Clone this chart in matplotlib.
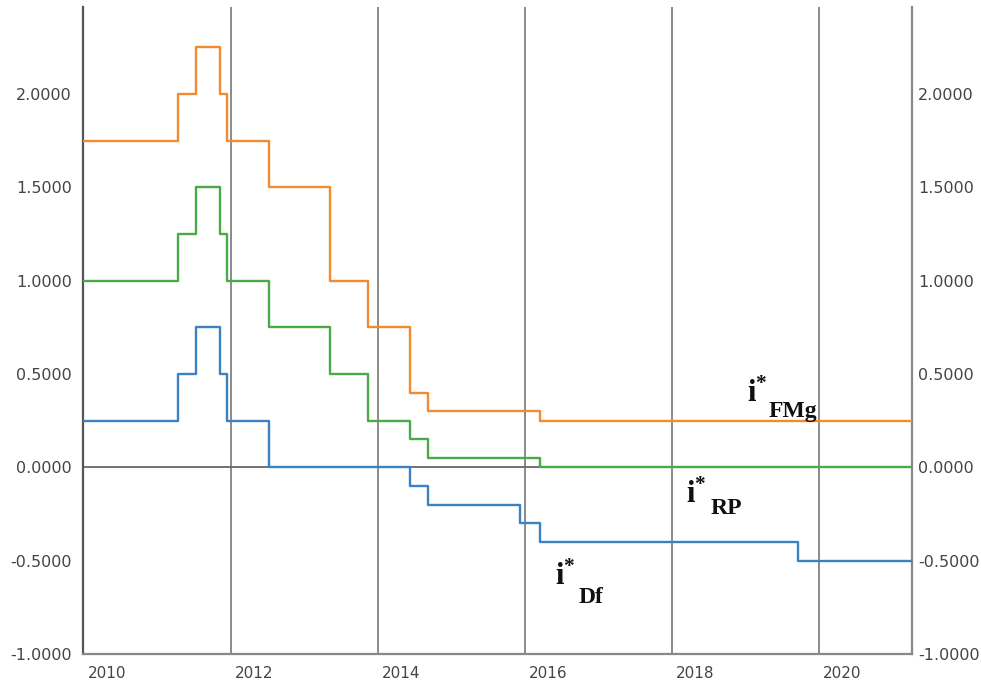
import numpy as np
import pandas as pd
import matplotlib
matplotlib.use('Agg')
import matplotlib.pyplot as plt
import matplotlib.transforms as mtransforms

# ECB key rates: change dates and new values (%)
change_dates = ['2009-05-13', '2011-04-13', '2011-07-13', '2011-11-09', '2011-12-14',
                '2012-07-11', '2013-05-08', '2013-11-13', '2014-06-11', '2014-09-10',
                '2015-12-09', '2016-03-16', '2019-09-18', '2021-06-30']
rate_fmg = [1.75, 2.00, 2.25, 2.00, 1.75, 1.50, 1.00, 0.75, 0.40, 0.30, 0.30, 0.25, 0.25, 0.25]
rate_rp = [1.00, 1.25, 1.50, 1.25, 1.00, 0.75, 0.50, 0.25, 0.15, 0.05, 0.05, 0.00, 0.00, 0.00]
rate_df = [0.25, 0.50, 0.75, 0.50, 0.25, 0.00, 0.00, 0.00, -0.10, -0.20, -0.30, -0.40, -0.50, -0.50]

year_ticks = [2010, 2012, 2014, 2016, 2018, 2020]
y_ticks = [-1.0, -0.5, 0.0, 0.5, 1.0, 1.5, 2.0]

# series labels: subscript text, position of the "i"
label_subs = ['FMg', 'RP', 'Df']
label_x = [2019.02, 2018.20, 2016.41]
label_y = [0.349, -0.193, -0.633]
sub_shift = [(22, -15), (24, -11), (24, -18)]  # pixels

d = pd.to_datetime(change_dates)
x = (d.year + (d.dayofyear - 1) / np.where(d.is_leap_year, 366, 365)).values

plt.rcParams['font.family'] = ['DejaVu Sans']
plt.rcParams['mathtext.fontset'] = 'custom'
plt.rcParams['mathtext.bf'] = 'Liberation Serif:bold'
plt.rcParams['mathtext.rm'] = 'Liberation Serif:bold'

fig = plt.figure(figsize=(9.81, 6.82), dpi=100)
ax = fig.add_axes([83 / 981, 28 / 682, (912 - 83) / 981, (654 - 7) / 682])

ax.step(x, rate_fmg, where='post', color='#f28a30', lw=1.7, zorder=3)
ax.step(x, rate_rp, where='post', color='#4aaa48', lw=1.7, zorder=3)
ax.step(x, rate_df, where='post', color='#3b82c4', lw=1.7, zorder=3)

ax.set_xlim(2009.99, 2021.27)
ax.set_ylim(-1.0, 2.465)

for yr in year_ticks[1:]:
    ax.axvline(yr, color='#8a8a8a', lw=1.4, zorder=1)
ax.axhline(0, color='#666666', lw=1.3, zorder=1)

ax.spines['top'].set_visible(False)
ax.spines['left'].set_color('#555555')
ax.spines['left'].set_linewidth(1.6)
ax.spines['bottom'].set_color('#888888')
ax.spines['bottom'].set_linewidth(1.6)
ax.spines['right'].set_color('#888888')
ax.spines['right'].set_linewidth(1.6)

ax.set_xticks(year_ticks)
ax.set_xticklabels([str(y) for y in year_ticks])
ax.set_yticks(y_ticks)
ax.set_yticklabels(['%.4f' % v for v in y_ticks])
ax.tick_params(axis='both', length=0, labelcolor='#444444')
ax.tick_params(axis='x', pad=8.5, labelsize=11)
ax.tick_params(axis='y', pad=8, labelsize=11.5)
offset = mtransforms.ScaledTranslation(4 / 100, 0, fig.dpi_scale_trans)
for lab in ax.get_xticklabels():
    lab.set_horizontalalignment('left')
    lab.set_transform(lab.get_transform() + offset)

ax2 = ax.twinx()
ax2.set_ylim(ax.get_ylim())
ax2.set_yticks(y_ticks)
ax2.set_yticklabels(['%.4f' % v for v in y_ticks])
ax2.tick_params(axis='y', length=0, labelsize=11.5, labelcolor='#444444', pad=4.5)
for s in ax2.spines.values():
    s.set_visible(False)

for sub, lx, ly, (dx, dy) in zip(label_subs, label_x, label_y, sub_shift):
    ax.text(lx, ly, r'$\mathbf{i}^{*}$', fontsize=22, color='#111111', va='baseline', zorder=5)
    ax.annotate(sub, xy=(lx, ly), xytext=(dx * 0.72, dy * 0.72), textcoords='offset points',
                fontfamily='Liberation Serif', fontweight='bold', fontsize=17,
                color='#111111', va='baseline', zorder=5)

fig.savefig('out.png', dpi=100)
